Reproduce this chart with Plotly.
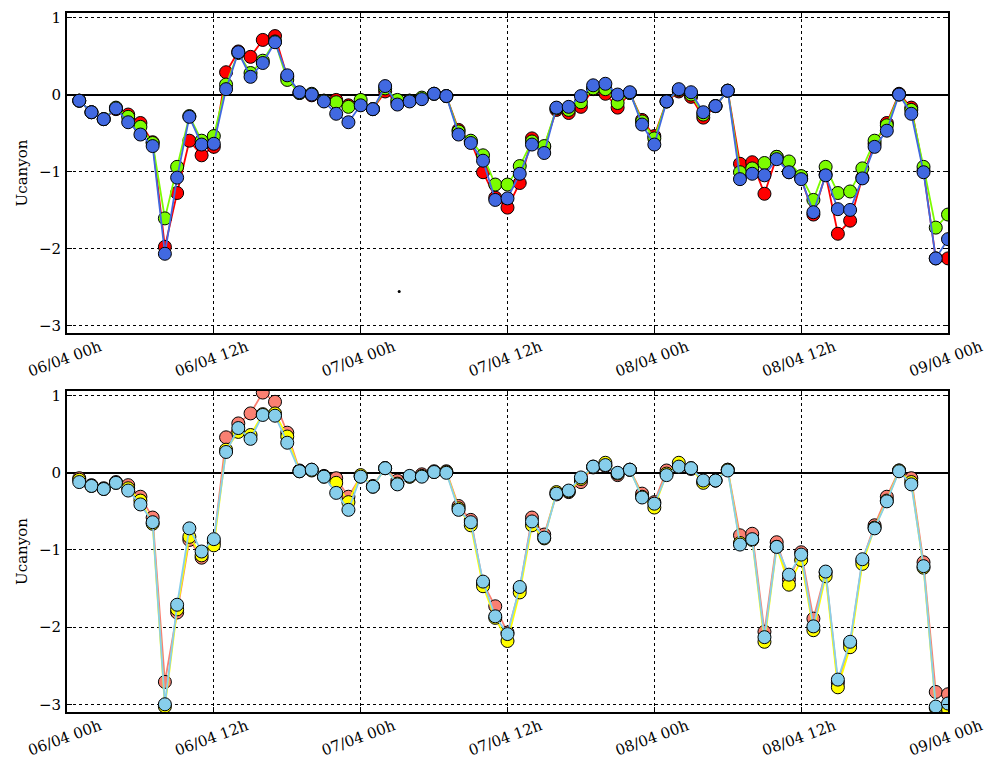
import pandas as pd
import plotly.graph_objects as go
from plotly.subplots import make_subplots

# ---------------- data ----------------
start_time = "2015-04-06 01:00"
n_hours = 72

top_red = [-0.08, -0.23, -0.32, -0.19, -0.26, -0.37, -0.62, -1.98, -1.28, -0.60,
           -0.79, -0.68, 0.29, 0.56, 0.49, 0.71, 0.76, 0.23, 0.02, -0.01,
           -0.08, -0.07, -0.14, -0.13, -0.19, 0.04, -0.10, -0.08, -0.05, 0.01,
           -0.02, -0.46, -0.61, -1.01, -1.34, -1.47, -1.15, -0.57, -0.68, -0.20,
           -0.24, -0.16, 0.07, 0.01, -0.17, 0.02, -0.33, -0.54, -0.09, 0.04,
           -0.03, -0.30, -0.15, 0.05, -0.90, -0.88, -1.29, -0.81, -1.01, -1.09,
           -1.56, -1.04, -1.81, -1.64, -1.08, -0.64, -0.37, 0.01, -0.17, -0.99,
           -2.13, -2.13]
top_green = [-0.08, -0.23, -0.32, -0.17, -0.29, -0.42, -0.63, -1.61, -0.94, -0.28,
             -0.60, -0.54, 0.13, 0.54, 0.28, 0.44, 0.69, 0.19, 0.02, 0.01,
             -0.08, -0.10, -0.16, -0.07, -0.19, 0.08, -0.07, -0.08, -0.04, 0.01,
             -0.02, -0.48, -0.60, -0.79, -1.17, -1.17, -0.93, -0.61, -0.67, -0.18,
             -0.20, -0.10, 0.08, 0.07, -0.11, 0.02, -0.35, -0.57, -0.09, 0.06,
             0.00, -0.26, -0.15, 0.05, -1.01, -0.96, -0.89, -0.81, -0.87, -1.06,
             -1.37, -0.94, -1.28, -1.26, -0.96, -0.60, -0.40, 0.00, -0.20, -0.94,
             -1.73, -1.56]
top_blue = [-0.08, -0.23, -0.32, -0.18, -0.36, -0.52, -0.67, -2.07, -1.08, -0.29,
            -0.65, -0.64, 0.07, 0.55, 0.23, 0.41, 0.68, 0.25, 0.03, 0.00,
            -0.09, -0.25, -0.36, -0.14, -0.19, 0.11, -0.13, -0.09, -0.06, 0.01,
            -0.02, -0.52, -0.63, -0.86, -1.37, -1.35, -1.03, -0.65, -0.76, -0.17,
            -0.16, -0.02, 0.12, 0.14, 0.00, 0.03, -0.39, -0.65, -0.09, 0.07,
            0.03, -0.23, -0.15, 0.05, -1.10, -1.03, -1.05, -0.84, -1.01, -1.10,
            -1.53, -1.05, -1.49, -1.50, -1.09, -0.68, -0.47, 0.00, -0.25, -1.01,
            -2.13, -1.88]

bot_salmon = [-0.07, -0.16, -0.20, -0.12, -0.16, -0.31, -0.58, -2.71, -1.81, -0.87,
              -1.10, -0.90, 0.46, 0.64, 0.77, 1.04, 0.92, 0.52, 0.03, 0.04,
              -0.04, -0.07, -0.31, -0.05, -0.17, 0.06, -0.10, -0.05, -0.02, 0.02,
              0.02, -0.43, -0.61, -1.43, -1.73, -2.07, -1.50, -0.58, -0.80, -0.28,
              -0.25, -0.12, 0.07, 0.09, -0.03, 0.04, -0.27, -0.38, 0.03, 0.08,
              0.05, -0.12, -0.10, 0.04, -0.81, -0.79, -2.06, -0.90, -1.38, -1.03,
              -1.89, -1.29, -2.72, -2.21, -1.14, -0.68, -0.31, 0.03, -0.07, -1.16,
              -2.84, -2.87]
bot_yellow = [-0.09, -0.17, -0.21, -0.13, -0.20, -0.36, -0.66, -3.03, -1.77, -0.83,
              -1.07, -0.94, 0.30, 0.53, 0.49, 0.76, 0.77, 0.47, 0.02, 0.03,
              -0.05, -0.13, -0.38, -0.03, -0.18, 0.06, -0.14, -0.05, -0.04, 0.01,
              0.01, -0.46, -0.68, -1.47, -1.88, -2.18, -1.55, -0.68, -0.85, -0.25,
              -0.24, -0.08, 0.08, 0.13, -0.01, 0.04, -0.31, -0.45, -0.01, 0.13,
              0.06, -0.13, -0.10, 0.04, -0.91, -0.87, -2.19, -0.96, -1.45, -1.13,
              -2.04, -1.34, -2.78, -2.26, -1.18, -0.71, -0.36, 0.03, -0.12, -1.23,
              -3.05, -3.06]
bot_blue = [-0.12, -0.17, -0.21, -0.13, -0.23, -0.41, -0.64, -3.00, -1.71, -0.72,
            -1.02, -0.86, 0.27, 0.58, 0.44, 0.75, 0.74, 0.39, 0.02, 0.04,
            -0.05, -0.26, -0.48, -0.05, -0.18, 0.06, -0.15, -0.04, -0.05, 0.01,
            0.00, -0.48, -0.64, -1.41, -1.86, -2.09, -1.48, -0.63, -0.84, -0.27,
            -0.23, -0.06, 0.08, 0.10, 0.00, 0.04, -0.32, -0.40, -0.03, 0.08,
            0.06, -0.10, -0.10, 0.03, -0.93, -0.86, -2.13, -0.96, -1.32, -1.06,
            -1.99, -1.28, -2.68, -2.19, -1.12, -0.72, -0.37, 0.02, -0.15, -1.21,
            -3.03, -2.99]

stray_x = ["2015-04-07 03:09"]
stray_y = [-2.56]

tick_vals = ["2015-04-06 00:00", "2015-04-06 12:00", "2015-04-07 00:00",
             "2015-04-07 12:00", "2015-04-08 00:00", "2015-04-08 12:00",
             "2015-04-09 00:00"]
tick_text = ["06/04 00h", "06/04 12h", "07/04 00h", "07/04 12h",
             "08/04 00h", "08/04 12h", "09/04 00h"]
y_range = [-3.1, 1.06]
y_label = "Ucanyon"

times = pd.date_range(start_time, periods=n_hours, freq="h")

# ---------------- figure ----------------
fig = make_subplots(rows=2, cols=1)

font_family = "DejaVu Serif"
fsize = 15

def add_series(values, color, row):
    fig.add_trace(go.Scatter(
        x=times, y=values, mode="lines+markers",
        line=dict(color=color, width=1.8),
        marker=dict(size=13, color=color, line=dict(color="black", width=1)),
        showlegend=False, hoverinfo="skip"), row=row, col=1)

add_series(top_red, "#ff0000", 1)
add_series(top_green, "#7cfc00", 1)
add_series(top_blue, "#4169e1", 1)
fig.add_trace(go.Scatter(x=pd.to_datetime(stray_x), y=stray_y, mode="markers",
                         marker=dict(size=3, color="black"), showlegend=False,
                         hoverinfo="skip"), row=1, col=1)

add_series(bot_salmon, "#fa8072", 2)
add_series(bot_yellow, "#ffff00", 2)
add_series(bot_blue, "#87ceeb", 2)

for r in (1, 2):
    fig.update_xaxes(
        range=[tick_vals[0], tick_vals[-1]], automargin=False,
        tickvals=tick_vals, ticktext=tick_text, tickangle=-20,
        ticklabelshift=33, ticklabelstandoff=-2,
        showgrid=True, gridcolor="black", griddash="dot", gridwidth=1,
        showline=True, linecolor="black", linewidth=2, mirror="allticks",
        ticks="inside", ticklen=5, tickcolor="black",
        tickfont=dict(family=font_family, size=fsize, color="black"),
        zeroline=False, row=r, col=1)
    fig.update_yaxes(
        range=y_range, tickvals=[-3, -2, -1, 0, 1], automargin=False,
        ticklabelstandoff=1,
        showgrid=True, gridcolor="black", griddash="dot", gridwidth=1,
        showline=True, linecolor="black", linewidth=2, mirror="allticks",
        ticks="inside", ticklen=5, tickcolor="black",
        tickfont=dict(family=font_family, size=fsize, color="black"),
        zeroline=True, zerolinecolor="black", zerolinewidth=2,
        title=dict(text=y_label, font=dict(family=font_family, size=fsize, color="black"),
                   standoff=8),
        row=r, col=1)

# page body has an 8px margin: figure is shifted by (8, 8) in the window
fig.update_layout(
    width=984, height=754,
    margin=dict(l=59, r=44, t=5, b=50),
    plot_bgcolor="white", paper_bgcolor="white",
    font=dict(family=font_family, color="black"),
    yaxis=dict(domain=[0.5422, 1.0]),
    yaxis2=dict(domain=[0.0, 0.4592]),
)
fig.write_html("out.html")
